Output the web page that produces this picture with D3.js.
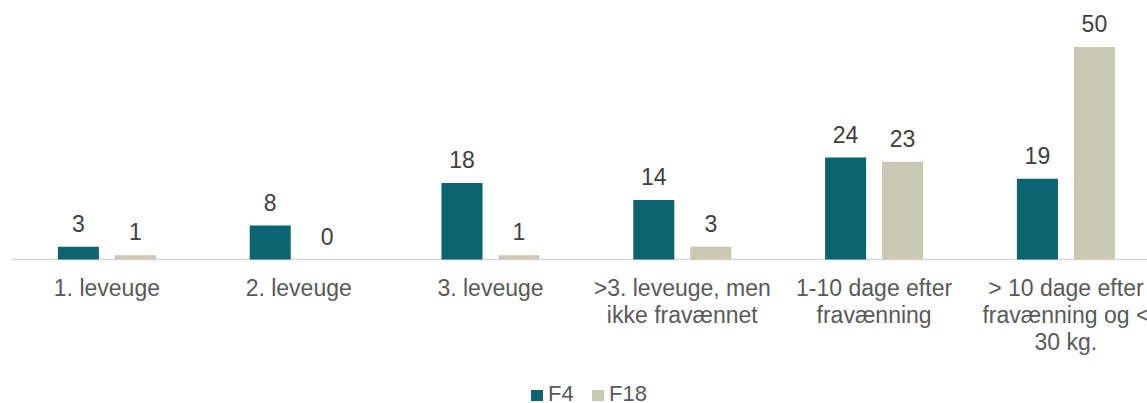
<!DOCTYPE html>
<html>
<head>
<meta charset="utf-8">
<script src="https://cdn.jsdelivr.net/npm/d3@7"></script>
<style>
  body { margin: 0; background: #fff; }
  svg text { font-family: "Liberation Sans", Arial, sans-serif; }
</style>
</head>
<body>
<svg id="chart" width="1147" height="403"></svg>
<script>
var categories = ["1. leveuge", "2. leveuge", "3. leveuge", ">3. leveuge, men ikke fravænnet",
    "1-10 dage efter fravænning", "> 10 dage efter fravænning og < 30 kg."];
var categoryLines = [["1. leveuge"], ["2. leveuge"], ["3. leveuge"], [">3. leveuge, men", "ikke fravænnet"],
    ["1-10 dage efter", "fravænning"], ["> 10 dage efter", "fravænning og <", "30 kg."]];
var seriesNames = ["F4", "F18"];
var seriesColors = ["#0b6470", "#c8c8b3"];
var f4Values = [3, 8, 18, 14, 24, 19];
var f18Values = [1, 0, 1, 3, 23, 50];

var svg = d3.select("#chart");
var baseY = 259.5, topY = 47;
var fontSize = 23;

var x = d3.scaleBand()
    .domain(categories)
    .range([11, 11 + 6 * 191.8])
    .paddingInner(0).paddingOuter(0);

var xs = d3.scaleBand()
    .domain(seriesNames)
    .range([0, 98])
    .paddingInner(0.28);

var y = d3.scaleLinear().domain([0, 50]).range([baseY, topY]);

var rows = categories.map(function(c, i){
    return {cat: c, vals: [f4Values[i], f18Values[i]]};
});

// baseline
svg.append("line")
    .attr("x1", x.range()[0]).attr("x2", 1147)
    .attr("y1", baseY).attr("y2", baseY)
    .attr("stroke", "#d9d9d9")
    .attr("stroke-width", 1.5);

var groups = svg.selectAll("g.cat")
    .data(rows)
    .enter().append("g")
    .attr("class", "cat")
    .attr("transform", function(d){
        return "translate(" + (x(d.cat) + (x.bandwidth() - 98) / 2) + ",0)";
    });

groups.selectAll("rect")
    .data(function(d){ return d.vals; })
    .enter().append("rect")
    .attr("x", function(d, i){ return xs(seriesNames[i]); })
    .attr("width", xs.bandwidth())
    .attr("y", function(d){ return y(d); })
    .attr("height", function(d){ return baseY - y(d); })
    .attr("fill", function(d, i){ return seriesColors[i]; });

groups.selectAll("text.val")
    .data(function(d){ return d.vals; })
    .enter().append("text")
    .attr("class", "val")
    .attr("x", function(d, i){ return xs(seriesNames[i]) + xs.bandwidth() / 2; })
    .attr("y", function(d){ return y(d) - 15; })
    .attr("text-anchor", "middle")
    .attr("font-size", fontSize)
    .attr("fill", "#404040")
    .text(function(d){ return d; });

// category labels
rows.forEach(function(d, i){
    var t = svg.append("text")
        .attr("x", x(d.cat) + x.bandwidth() / 2)
        .attr("y", 296)
        .attr("text-anchor", "middle")
        .attr("font-size", fontSize)
        .attr("fill", "#595959");
    categoryLines[i].forEach(function(line, k){
        t.append("tspan")
            .attr("x", x(d.cat) + x.bandwidth() / 2)
            .attr("dy", k === 0 ? 0 : 27)
            .text(line);
    });
});

// legend
var legendX = [531, 592];
seriesNames.forEach(function(name, i){
    svg.append("rect")
        .attr("x", legendX[i]).attr("y", 390)
        .attr("width", 12).attr("height", 11)
        .attr("fill", seriesColors[i]);
    svg.append("text")
        .attr("x", legendX[i] + 17).attr("y", 400.5)
        .attr("font-size", 22)
        .attr("fill", "#595959")
        .text(name);
});
</script>
</body>
</html>
